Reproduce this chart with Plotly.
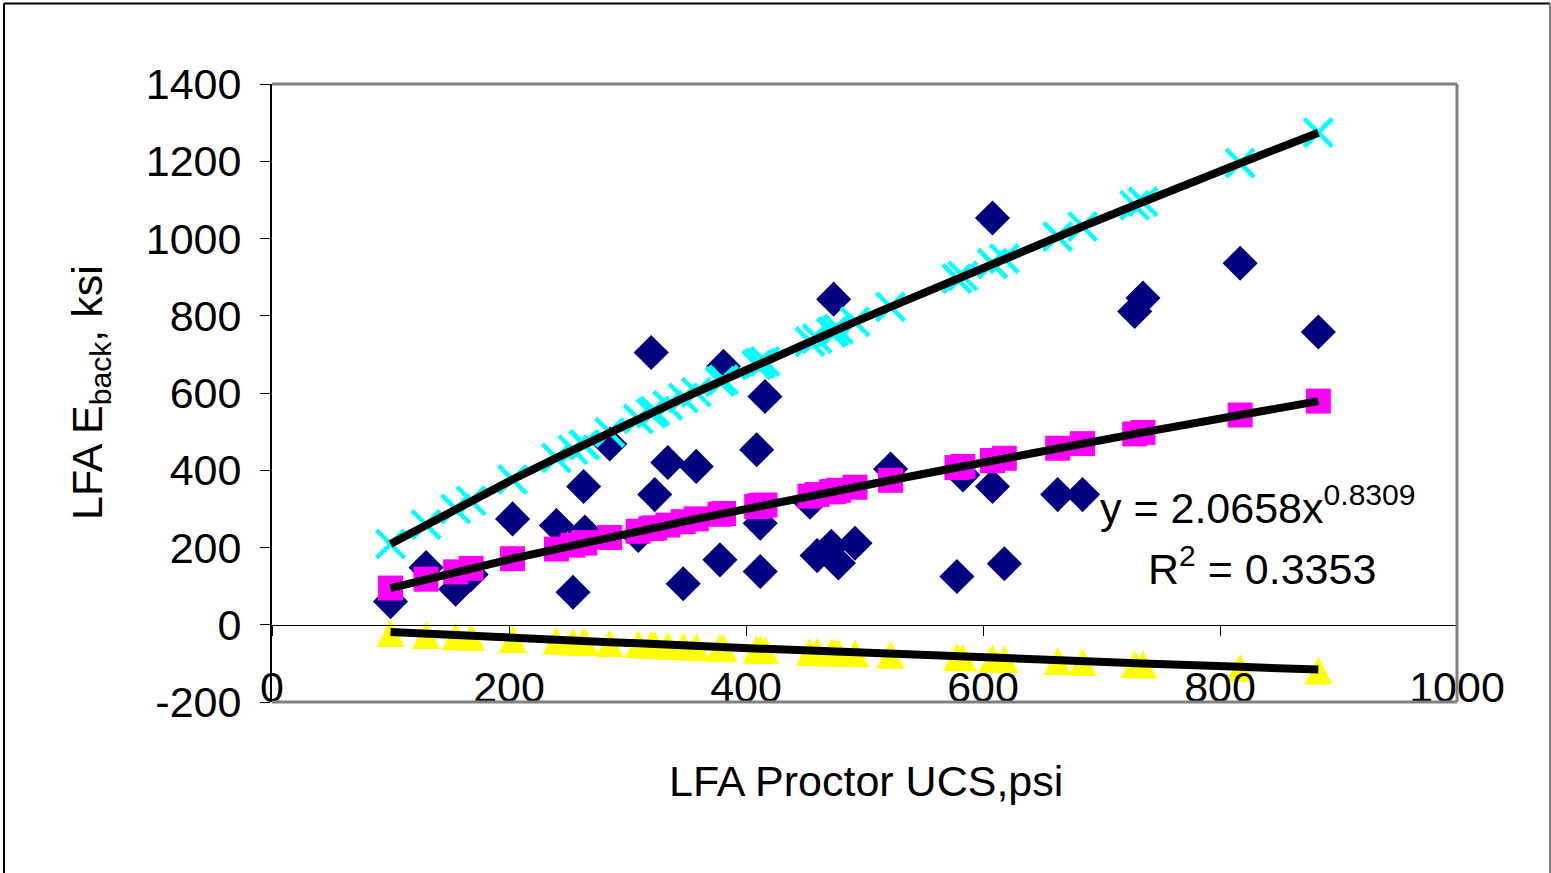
import plotly.graph_objects as go

# ---- data ----
ucs = [100, 130, 155, 168, 203, 240, 254, 263, 264, 285, 309, 320, 323, 334, 347, 358,
       378, 381, 409, 412, 412, 416, 454, 460, 472, 474, 478, 492, 522, 578, 583, 608,
       608, 618, 663, 684, 728, 735, 817, 883]
e_back = [60, 148, 92, 130, 274, 257, 84, 358, 240, 468, 231, 705, 337, 420, 106, 410,
          168, 669, 453, 263, 138, 591, 317, 179, 203, 843, 160, 211, 403, 125, 388, 1053,
          358, 158, 337, 337, 811, 846, 936, 758]
e_fit = [95, 118, 137, 146, 171, 196, 206, 212, 212, 226, 242, 249, 251, 258, 267, 274,
         286, 288, 306, 308, 308, 310, 333, 337, 344, 345, 348, 356, 374, 407, 410, 425,
         425, 431, 457, 469, 494, 498, 543, 579]
e_upper = [209, 259, 300, 321, 376, 432, 453, 466, 466, 498, 533, 548, 553, 568, 587, 602,
           630, 634, 673, 677, 677, 682, 733, 741, 757, 760, 765, 784, 823, 896, 903, 935,
           935, 948, 1005, 1031, 1086, 1095, 1195, 1274]
e_lower = [-19, -24, -27, -29, -34, -39, -41, -42, -42, -45, -48, -50, -50, -52, -53, -55,
           -57, -58, -61, -62, -62, -62, -67, -67, -69, -69, -70, -71, -75, -81, -82, -85,
           -85, -86, -91, -94, -99, -100, -109, -116]
x_ticks = [0, 200, 400, 600, 800, 1000]
y_ticks = [-200, 0, 200, 400, 600, 800, 1000, 1200, 1400]

W, H = 1551, 873
L, R, T, B = 272, 94, 84, 171
PW, PH = W - L - R, H - T - B
FONT = "Arial, Liberation Sans, sans-serif"


def px2x(px):
    return (px - L) / PW


def py2y(py):
    return (H - B - py) / PH


fig = go.Figure()
fig.add_trace(go.Scatter(x=ucs, y=e_back, mode="markers",
                         marker=dict(symbol="diamond", size=27, color="#000080",
                                     line=dict(width=0))))
fig.add_trace(go.Scatter(x=ucs, y=e_fit, mode="markers",
                         marker=dict(symbol="square", size=25, color="#FF00FF",
                                     line=dict(width=0))))
fig.add_trace(go.Scatter(x=ucs, y=e_upper, mode="markers",
                         marker=dict(symbol="x-thin", size=28, color="#00FFFF",
                                     line=dict(width=4.5, color="#00FFFF"))))
# upward-pointing triangle, centred on the value (apex above, base below)
fig.add_trace(go.Scatter(x=ucs, y=e_lower, mode="markers",
                         marker=dict(symbol="arrow-down", angle=180, size=28,
                                     color="#FFFF00", standoff=13, line=dict(width=0))))
for ys in (e_fit, e_upper, e_lower):
    fig.add_trace(go.Scatter(x=ucs, y=ys, mode="lines",
                             line=dict(color="black", width=8)))

shapes = [
    # plot area border (top, right, bottom)
    dict(type="line", xref="paper", yref="paper", x0=0, x1=1, y0=1, y1=1,
         line=dict(color="#808080", width=3)),
    dict(type="line", xref="paper", yref="paper", x0=1, x1=1, y0=0, y1=1,
         line=dict(color="#808080", width=3)),
    dict(type="line", xref="paper", yref="paper", x0=0, x1=1, y0=0, y1=0,
         line=dict(color="#808080", width=3)),
    # outer chart frame
    dict(type="line", xref="paper", yref="paper", x0=px2x(4), x1=px2x(4),
         y0=py2y(3.5), y1=py2y(880), line=dict(color="black", width=2)),
    dict(type="line", xref="paper", yref="paper", x0=px2x(4), x1=px2x(1550),
         y0=py2y(3.5), y1=py2y(3.5), line=dict(color="black", width=2)),
    dict(type="line", xref="paper", yref="paper", x0=px2x(1550), x1=px2x(1550),
         y0=py2y(3.5), y1=py2y(880), line=dict(color="#808080", width=2)),
]

annotations = [
    dict(text="LFA Proctor UCS,psi", xref="paper", yref="paper",
         x=px2x(866), y=py2y(781), xanchor="center", yanchor="middle",
         showarrow=False, font=dict(size=43, color="black", family=FONT)),
    dict(text="LFA E<sub>back</sub>, ksi", xref="paper", yref="paper",
         x=px2x(90), y=py2y(393), xanchor="center", yanchor="middle", textangle=-90,
         showarrow=False, font=dict(size=43, color="black", family=FONT)),
    dict(text="y = 2.0658x<sup>0.8309</sup>", xref="paper", yref="paper",
         x=px2x(1098), y=py2y(505), xanchor="left", yanchor="middle",
         showarrow=False, font=dict(size=43, color="black", family=FONT)),
    dict(text="R<sup>2</sup> = 0.3353", xref="paper", yref="paper",
         x=px2x(1146), y=py2y(566), xanchor="left", yanchor="middle",
         showarrow=False, font=dict(size=43, color="black", family=FONT)),
]

fig.update_layout(
    width=W, height=H,
    margin=dict(l=L, r=R, t=T, b=B, pad=0),
    paper_bgcolor="white", plot_bgcolor="white",
    showlegend=False,
    font=dict(family=FONT, color="black"),
    shapes=shapes,
    annotations=annotations,
    xaxis=dict(range=[0, 1000], tickvals=x_ticks, ticktext=[str(v) for v in x_ticks],
               anchor="free", position=0.125,
               showline=True, linecolor="black", linewidth=1,
               ticks="outside", ticklen=10, tickcolor="black", tickwidth=1,
               showgrid=False, zeroline=False,
               tickfont=dict(size=43, color="black", family=FONT),
               ticklabelstandoff=15),
    yaxis=dict(range=[-200, 1400], tickvals=y_ticks, ticktext=[str(v) for v in y_ticks],
               showline=True, linecolor="black", linewidth=2,
               ticks="outside", ticklen=10, tickcolor="black", tickwidth=1,
               showgrid=False, zeroline=False,
               tickfont=dict(size=43, color="black", family=FONT),
               ticklabelstandoff=10),
)

fig.write_html("out.html")
